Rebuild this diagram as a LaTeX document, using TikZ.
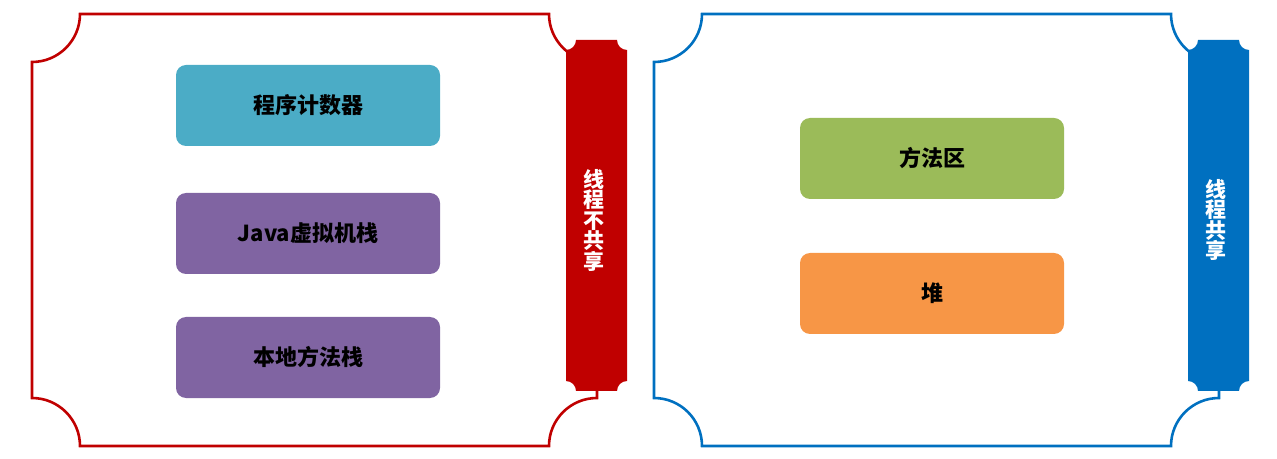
\documentclass[tikz,border=0pt]{standalone}
\usepackage{fontspec}
\setmainfont{Noto Sans CJK SC}
\definecolor{fred}{HTML}{C00000}
\definecolor{fblue}{HTML}{0070C0}
\definecolor{cteal}{HTML}{4BACC6}
\definecolor{cpurple}{HTML}{8064A2}
\definecolor{cgreen}{HTML}{9BBB59}
\definecolor{corange}{HTML}{F79646}
\begin{document}
\begin{tikzpicture}[x=1pt,y=1pt,
  memblock/.style={rounded corners=10pt, minimum width=264pt, minimum height=81pt, inner sep=0pt,
    font=\fontsize{22}{26}\selectfont\bfseries, text=black},
  frameline/.style={line width=2.6pt},
  bartext/.style={text=white, font=\fontsize{21}{20.5}\selectfont\bfseries, align=center, inner sep=0pt}]
\useasboundingbox (0,0) rectangle (1277,458);
% left frame
\draw[frameline, fred] (80,444) -- (549,444) arc[start angle=180,end angle=270,radius=48]
  -- (597,60) arc[start angle=90,end angle=180,radius=48]
  -- (80,12) arc[start angle=0,end angle=90,radius=48]
  -- (32,396) arc[start angle=270,end angle=360,radius=48] -- cycle;
% right frame
\draw[frameline, fblue] (702,444) -- (1171,444) arc[start angle=180,end angle=270,radius=48]
  -- (1219,60) arc[start angle=90,end angle=180,radius=48]
  -- (702,12) arc[start angle=0,end angle=90,radius=48]
  -- (654,396) arc[start angle=270,end angle=360,radius=48] -- cycle;
% red bar
\fill[fred] (576,418) -- (617,418) arc[start angle=180,end angle=270,radius=10]
  -- (627,77) arc[start angle=90,end angle=180,radius=10]
  -- (576,67) arc[start angle=0,end angle=90,radius=10]
  -- (566,408) arc[start angle=270,end angle=360,radius=10] -- cycle;
% blue bar
\fill[fblue] (1198,418) -- (1239,418) arc[start angle=180,end angle=270,radius=10]
  -- (1249,77) arc[start angle=90,end angle=180,radius=10]
  -- (1198,67) arc[start angle=0,end angle=90,radius=10]
  -- (1188,408) arc[start angle=270,end angle=360,radius=10] -- cycle;
\node[bartext] (tl) at (594,238) {线\\程\\不\\共\\享};
\node[bartext] (tr) at (1216,238) {线\\程\\共\\享};
% blocks
\node[memblock, fill=cteal] (pc) at (308,352.5) {程序计数器};
\node[memblock, fill=cpurple] (jvm) at (308,224.5) {Java虚拟机栈};
\node[memblock, fill=cpurple] (native) at (308,100.5) {本地方法栈};
\node[memblock, fill=cgreen] (method) at (932,299.5) {方法区};
\node[memblock, fill=corange] (heap) at (932,164.5) {堆};
\end{tikzpicture}
\end{document}
